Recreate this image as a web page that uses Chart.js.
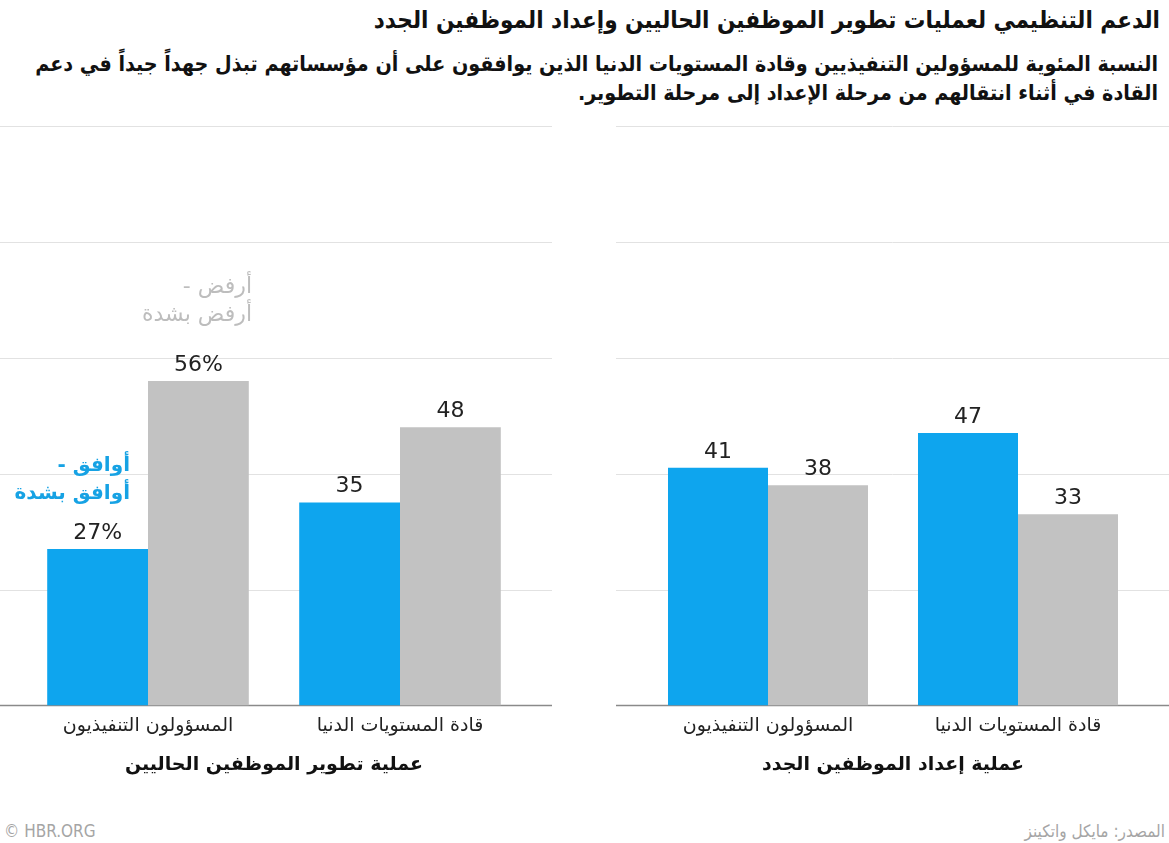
<!DOCTYPE html>
<html lang="ar">
<head>
<meta charset="UTF-8">
<title>HBR chart</title>
<script src="https://cdn.jsdelivr.net/npm/chart.js"></script>
<style>
  body { margin: 0; width: 1169px; height: 843px; background: #fff; position: relative; overflow: hidden; font-family: "DejaVu Sans", sans-serif; }
  .txt { position: absolute; direction: rtl; text-align: right; white-space: nowrap; }
  #title { right: 9px; top: 6px; font: bold 24px "DejaVu Sans Condensed", "DejaVu Sans"; color: #111; }
  #sub { right: 11px; top: 49px; font: bold 21.3px/29px "DejaVu Sans Condensed", "DejaVu Sans"; color: #111; }
  .legend { line-height: 28px; }
  #lgAgree { right: 1039px; top: 450px; color: #16a2e4; font-weight: bold; font-size: 20px; }
  #lgDisagree { right: 917px; top: 272px; color: #bdbdbd; font-size: 22px; }
  .foot { position: absolute; top: 821px; font: 17px "DejaVu Sans Condensed", "DejaVu Sans"; color: #a5a5a5; }
  canvas { position: absolute; }
</style>
</head>
<body>
<div class="txt" id="title">الدعم التنظيمي لعمليات تطوير الموظفين الحاليين وإعداد الموظفين الجدد</div>
<div class="txt" id="sub">النسبة المئوية للمسؤولين التنفيذيين وقادة المستويات الدنيا الذين يوافقون على أن مؤسساتهم تبذل جهداً جيداً في دعم<br>القادة في أثناء انتقالهم من مرحلة الإعداد إلى مرحلة التطوير.</div>

<div style="position:absolute;left:0;top:100px;width:552px;height:700px"><canvas id="leftChart"></canvas></div>
<div style="position:absolute;left:616px;top:100px;width:553px;height:700px"><canvas id="rightChart"></canvas></div>

<div class="txt legend" id="lgAgree">أوافق -<br>أوافق بشدة</div>
<div class="txt legend" id="lgDisagree">أرفض -<br>أرفض بشدة</div>

<div class="foot" style="left:4px">© HBR.ORG</div>
<div class="foot" style="right:4px;direction:rtl">المصدر: مايكل واتكينز</div>

<script>
// categories (left to right as drawn)
const categories = ['المسؤولون التنفيذيون', 'قادة المستويات الدنيا'];

// current employee development process
const devAgree = [27, 35];
const devDisagree = [56, 48];

// new employee onboarding process
const onbAgree = [41, 47];
const onbDisagree = [38, 33];

const blue = '#0ea5ee';
const gray = '#c2c2c2';

// gridlines drawn across the whole panel width
const wideGrid = {
  id: 'wideGrid',
  beforeDatasetsDraw(chart) {
    const c = chart.ctx, y = chart.scales.y;
    c.save();
    y.ticks.forEach(t => {
      const py = Math.round(y.getPixelForValue(t.value)) + 0.5;
      c.strokeStyle = t.value === 0 ? '#8a8a8a' : '#e2e2e2';
      c.lineWidth = t.value === 0 ? 1.5 : 1;
      c.beginPath();
      c.moveTo(0, py);
      c.lineTo(chart.width, py);
      c.stroke();
    });
    c.restore();
  }
};

// value labels above the bars
const valueLabels = {
  id: 'valueLabels',
  afterDatasetsDraw(chart, args, opts) {
    const c = chart.ctx;
    c.save();
    c.font = '22px "DejaVu Sans"';
    c.fillStyle = '#222';
    c.textAlign = 'center';
    c.textBaseline = 'bottom';
    chart.data.datasets.forEach((ds, di) => {
      chart.getDatasetMeta(di).data.forEach((bar, i) => {
        const v = ds.data[i];
        const txt = (opts.percentFirst && i === 0) ? v + '%' : String(v);
        c.fillText(txt, bar.x, bar.y - 5);
      });
    });
    c.restore();
  }
};

function makeChart(id, agree, disagree, axisTitle, pad, percentFirst) {
  return new Chart(document.getElementById(id), {
    type: 'bar',
    data: {
      labels: categories,
      datasets: [
        { data: agree, backgroundColor: blue },
        { data: disagree, backgroundColor: gray }
      ]
    },
    options: {
      responsive: true,
      maintainAspectRatio: false,
      animation: false,
      layout: { padding: { left: pad[0], right: pad[1], top: 26, bottom: 20 } },
      datasets: { bar: { categoryPercentage: 0.8, barPercentage: 1 } },
      plugins: {
        legend: { display: false },
        tooltip: { enabled: false },
        valueLabels: { percentFirst: percentFirst }
      },
      scales: {
        x: {
          grid: { display: false },
          border: { display: false },
          ticks: { color: '#222', font: { family: 'DejaVu Sans', size: 19 }, padding: 1 },
          title: { display: true, text: axisTitle, color: '#111', font: { family: 'DejaVu Sans', size: 19, weight: 'bold' }, padding: { top: 15 } }
        },
        y: {
          min: 0, max: 100,
          ticks: { stepSize: 20, display: false },
          grid: { display: false },
          border: { display: false }
        }
      }
    },
    plugins: [wideGrid, valueLabels]
  });
}

makeChart('leftChart', devAgree, devDisagree, 'عملية تطوير الموظفين الحاليين', [14, 26], true);
makeChart('rightChart', onbAgree, onbDisagree, 'عملية إعداد الموظفين الجدد', [19, 26], false);
</script>
</body>
</html>
